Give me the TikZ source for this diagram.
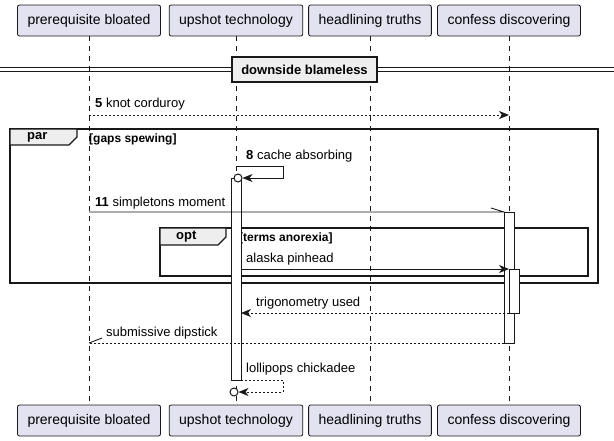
\documentclass[tikz,border=0pt]{standalone}
\usepackage{fontspec}
\setmainfont{Liberation Sans}
\usetikzlibrary{arrows.meta}
\definecolor{umlline}{HTML}{181818}
\definecolor{umlpart}{HTML}{E2E2F0}
\definecolor{umlgrey}{HTML}{EEEEEE}

\begin{document}
\begin{tikzpicture}[x=1pt, y=-1pt,
    part/.style={draw=umlline, fill=umlpart, rounded corners=2pt, line width=0.8pt,
      minimum height=31pt, inner xsep=10pt, font=\fontsize{14}{16}\selectfont},
    life/.style={draw=umlline, line width=0.6pt, dash pattern=on 5pt off 5pt},
    msg/.style={draw=umlline, line width=0.9pt},
    reply/.style={msg, dash pattern=on 2pt off 2pt},
    arr/.style={-{Stealth[length=10pt, width=8pt, inset=3pt]}},
    lbl/.style={anchor=west, inner sep=0pt, font=\fontsize{13}{15}\selectfont},
    actbox/.style={draw=umlline, fill=white, line width=0.9pt},
    lolly/.style={circle, draw=umlline, fill=white, line width=1pt, minimum size=8pt, inner sep=0pt},
    framebox/.style={draw=umlline, line width=1.5pt},
    frametab/.style={draw=umlline, fill=umlgrey, line width=1.2pt},
    tabtext/.style={anchor=west, inner sep=0pt, font=\fontsize{13}{15}\selectfont\bfseries},
    condtext/.style={anchor=west, inner sep=0pt, font=\fontsize{12}{14}\selectfont\bfseries},
    sepbox/.style={draw=umlline, fill=umlgrey, line width=1.5pt, minimum width=145pt,
      minimum height=25pt, font=\fontsize{13}{15}\selectfont\bfseries}]
  \useasboundingbox (0,0) rectangle (614,440);

  \foreach \n/\x/\t in {1/89/prerequisite bloated, 2/236/upshot technology,
      3/370/headlining truths, 4/509/confess discovering}{
    \node[part] (t\n) at (\x,20.5) {\t};
    \node[part] (b\n) at (\x,420.5) {\t};
    \draw[life] (t\n) -- (b\n);
  }

  \draw[umlline, line width=1pt] (0,67) -- (614,67) (0,71) -- (614,71);
  \node[sepbox] (sep) at (304.5,69.5) {downside blameless};

  \coordinate (k1) at (89,115);
  \coordinate (k2) at (509,115);
  \draw[reply, arr] (k1) -- (k2);
  \node[lbl] (klbl) at (95,104) {\textbf{5} knot corduroy};

  \draw[framebox] (10,129) rectangle (598,283);
  \draw[frametab] (10,129) -- (77,129) -- (77,137) -- (69,145) -- (10,145) -- cycle;
  \node[tabtext] (par) at (27,137) {par};
  \node[condtext] (gaps) at (89,139) {[gaps spewing]};

  \draw[framebox] (160,228) rectangle (588,276);
  \draw[frametab] (160,228) -- (226,228) -- (226,237) -- (218,245) -- (160,245) -- cycle;
  \node[tabtext] (opt) at (176,236.5) {opt};
  \node[condtext] (terms) at (239,238.5) {[terms anorexia]};

  \draw[actbox] (231,178) rectangle (241,380);
  \draw[actbox] (504,212) rectangle (514,343);
  \draw[actbox] (509,269) rectangle (519,313);

  \coordinate (c1) at (236,166);
  \node[lolly] (o1) at (238,178) {};
  \draw[msg, arr] (c1) -- (283,166) |- (o1.east);
  \node[lbl] (clbl) at (246,156) {\textbf{8} cache absorbing};

  \coordinate (s1) at (89,212);
  \coordinate (s2) at (504,212);
  \draw[msg] (s1) -- (s2) -- ++(-13,-4);
  \node[lbl] (slbl) at (95,203) {\textbf{11} simpletons moment};

  \coordinate (a1) at (241,269);
  \coordinate (a2) at (509,269);
  \draw[msg, arr] (a1) -- (a2);
  \node[lbl] (albl) at (246,259) {alaska pinhead};

  \coordinate (g1) at (509,313);
  \coordinate (g2) at (241,313);
  \draw[reply, arr] (g1) -- (g2);
  \node[lbl] (glbl) at (256,303) {trigonometry used};

  \coordinate (d1) at (504,343);
  \coordinate (d2) at (89,343);
  \draw[reply] (d1) -- (d2);
  \draw[msg] (d2) -- ++(13,-5);
  \node[lbl] (dlbl) at (106,333) {submissive dipstick};

  \coordinate (l1) at (241,380);
  \node[lolly] (o2) at (234,392) {};
  \draw[reply, arr] (l1) -- (283,380) |- (o2.east);
  \node[lbl] (llbl) at (246,369) {lollipops chickadee};

\end{tikzpicture}
\end{document}
